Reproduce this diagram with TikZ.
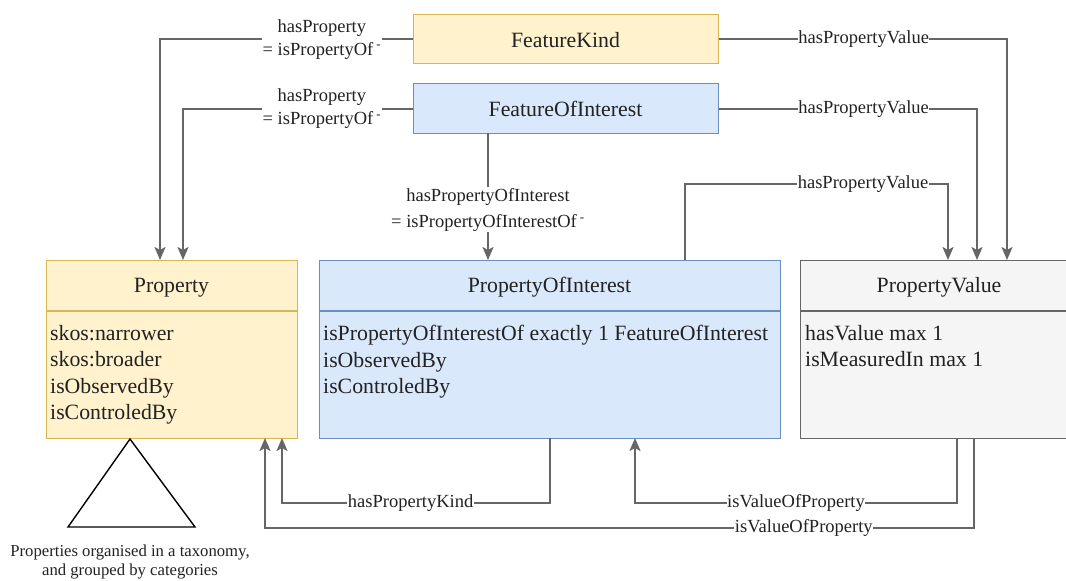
\documentclass[tikz,border=0pt]{standalone}
\usepackage{fontspec}
\setmainfont{Liberation Serif}
\usetikzlibrary{arrows.meta}
\definecolor{yfill}{HTML}{FFF2CC}
\definecolor{ydraw}{HTML}{D6B656}
\definecolor{bfill}{HTML}{DAE8FC}
\definecolor{bdraw}{HTML}{6C8EBF}
\definecolor{gfill}{HTML}{F5F5F5}
\definecolor{gdraw}{HTML}{666666}
\definecolor{conncol}{HTML}{666666}
\definecolor{txt}{HTML}{222222}
\begin{document}
\begin{tikzpicture}[x=1pt,y=-1pt,
  box/.style={draw, line width=1.3pt, inner sep=0pt, anchor=north west},
  ybox/.style={box, fill=yfill, draw=ydraw},
  bbox/.style={box, fill=bfill, draw=bdraw},
  gbox/.style={box, fill=gfill, draw=gdraw},
  boxtext/.style={font=\fontsize{21.8}{26.5}\selectfont, text=txt},
  titletext/.style={boxtext, anchor=base, inner sep=0pt},
  bodytext/.style={boxtext, anchor=north west, align=left, inner sep=0pt},
  conn/.style={draw=conncol, line width=2pt, -{Stealth[width=11pt,length=13pt,inset=3pt]}},
  lbl/.style={font=\fontsize{18.5}{23}\selectfont, fill=white, inner xsep=0.5pt, inner ysep=1pt, text=txt, align=center},
]
\useasboundingbox (0,0) rectangle (1066,581);
\fill[white] (0,0) rectangle (1066,581);

% top boxes
\node[ybox, minimum width=305pt, minimum height=49pt] (fk) at (413,14) {};
\node[boxtext] (fkt) at (565.5,40) {FeatureKind};
\node[bbox, minimum width=305pt, minimum height=50pt] (foi) at (413,83) {};
\node[boxtext] (foit) at (565.5,109) {FeatureOfInterest};

% Property
\node[ybox, minimum width=251pt, minimum height=178pt] (prop) at (46,260) {};
\draw[ydraw, line width=1.3pt] (46,311) -- (297,311);
\node[titletext] (propt) at (171.5,292) {Property};
\node[bodytext] (propb) at (50,325) {skos:narrower\\skos:broader\\isObservedBy\\isControledBy};

% PropertyOfInterest
\node[bbox, minimum width=461pt, minimum height=178pt] (poi) at (319,260) {};
\draw[bdraw, line width=1.3pt] (319,311) -- (780,311);
\node[titletext] (poit) at (549.5,292) {PropertyOfInterest};
\node[bodytext] (poib) at (323,325) {isPropertyOfInterestOf exactly 1 FeatureOfInterest\\isObservedBy\\isControledBy};

% PropertyValue
\node[gbox, minimum width=278pt, minimum height=178pt] (pv) at (800,260) {};
\draw[gdraw, line width=1.3pt] (800,311) -- (1078,311);
\node[titletext] (pvt) at (939,292) {PropertyValue};
\node[bodytext] (pvb) at (805,325) {hasValue max 1\\isMeasuredIn max 1};

% taxonomy triangle and caption
\draw[line width=1.4pt, black] (130,439) -- (68,527) -- (195,527) -- cycle;
\node[font=\fontsize{16.7}{19}\selectfont, align=center, text=txt] (cap) at (130,562) {Properties organised in a taxonomy,\\and grouped by categories};

% connection points
\coordinate (p1) at (160,260);
\coordinate (p2) at (183,260);
\coordinate (v1) at (1007,260);
\coordinate (v2) at (977,260);
\coordinate (v3) at (948,260);
\coordinate (poiT) at (685,260);
\coordinate (foiB) at (488,133);
\coordinate (poiT2) at (488,260);
\coordinate (poiB) at (550,438);
\coordinate (p3) at (282,438);
\coordinate (pvB1) at (957,438);
\coordinate (poiB2) at (635,438);
\coordinate (pvB2) at (974,438);
\coordinate (p4) at (265,438);

% connectors
\draw[conn] (fk.west) -| node[lbl, pos=0.18] {hasProperty\\= isPropertyOf\,\textsuperscript{-}} (p1);
\draw[conn] (foi.west) -| node[lbl, pos=0.198] {hasProperty\\= isPropertyOf\,\textsuperscript{-}} (p2);
\draw[conn] (fk.east) -| node[lbl, pos=0.251] {hasPropertyValue} (v1);
\draw[conn] (foi.east) -| node[lbl, pos=0.28] {hasPropertyValue} (v2);
\draw[conn] (poiT) -- (685,184) -- node[lbl, pos=0.677] {hasPropertyValue} (948,184) -- (v3);
\draw[conn] (foiB) -- node[lbl, pos=0.606, font=\fontsize{18.5}{26}\selectfont] {hasPropertyOfInterest\\= isPropertyOfInterestOf\,\textsuperscript{-}} (poiT2);
\draw[conn] (poiB) -- (550,503) -- node[lbl, pos=0.52] {hasPropertyKind} (282,503) -- (p3);
\draw[conn] (pvB1) -- (957,503) -- node[lbl, pos=0.5] {isValueOfProperty} (635,503) -- (poiB2);
\draw[conn] (pvB2) -- (974,528) -- node[lbl, pos=0.24] {isValueOfProperty} (265,528) -- (p4);
\end{tikzpicture}
\end{document}
